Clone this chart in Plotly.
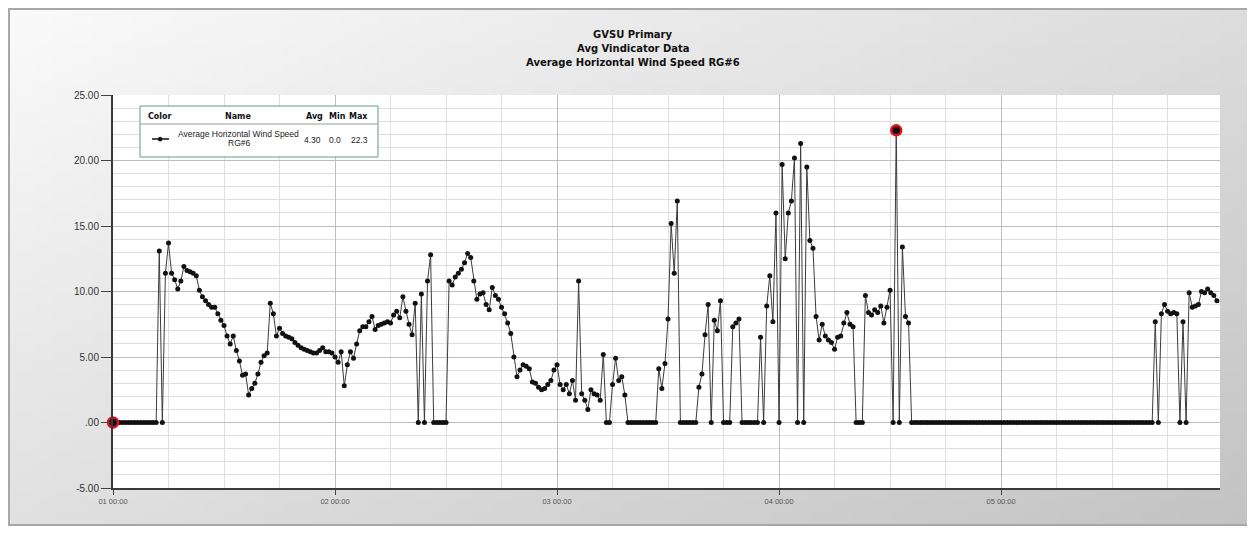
import base64
import struct
import zlib

import pandas as pd
import plotly.graph_objects as go

# ---------------- data (20-minute samples) ----------------
start_time = "2013-04-01 00:00"
sample_step = "20min"

speed_day1 = [0.0] * 15 + [
    13.1, 0.0, 11.4, 13.7, 11.4, 10.9, 10.2, 10.8, 11.9, 11.6, 11.5, 11.4, 11.2, 10.1, 9.6,
    9.3, 9.0, 8.8, 8.8, 8.3, 7.8, 7.4, 6.6, 6.0, 6.6, 5.5, 4.7, 3.6, 3.7, 2.1,
    2.6, 3.0, 3.7, 4.6, 5.1, 5.3, 9.1, 8.3, 6.6, 7.2, 6.8, 6.6, 6.5, 6.4, 6.1,
    5.9, 5.7, 5.6, 5.5, 5.4, 5.3, 5.3, 5.5, 5.7, 5.4, 5.4, 5.3,
]
speed_day2 = [
    5.0, 4.6, 5.4, 2.8, 4.4, 5.4, 4.9, 6.0, 7.0, 7.3, 7.3, 7.7, 8.1, 7.1, 7.4,
    7.5, 7.6, 7.7, 7.6, 8.2, 8.5, 8.0, 9.6, 8.5, 7.5, 6.7, 9.1, 0.0, 9.8, 0.0,
    10.8, 12.8,
] + [0.0] * 5 + [
    10.8, 10.5, 11.1, 11.4, 11.7, 12.2, 12.9, 12.6, 10.8, 9.4, 9.8, 9.9, 9.0, 8.6, 10.3,
    9.7, 9.4, 8.8, 8.3, 7.6, 6.8, 5.0, 3.5, 4.0, 4.4, 4.3, 4.1, 3.1, 3.0, 2.7,
    2.5, 2.6, 2.9, 3.2, 4.0,
]
speed_day3 = [
    4.4, 2.9, 2.5, 2.9, 2.2, 3.2, 1.7, 10.8, 2.2, 1.7, 1.0, 2.5, 2.2, 2.1, 1.7,
    5.2, 0.0, 0.0, 2.9, 4.9, 3.2, 3.5, 2.1,
] + [0.0] * 10 + [4.1, 2.6, 4.5, 7.9, 15.2, 11.4, 16.9] + [0.0] * 6 + [
    2.7, 3.7, 6.7, 9.0, 0.0, 7.8, 7.0, 9.3,
] + [0.0] * 3 + [7.3, 7.6, 7.9] + [0.0] * 6 + [6.5, 0.0, 8.9, 11.2, 7.7, 16.0]
speed_day4 = [
    0.0, 19.7, 12.5, 16.0, 16.9, 20.2, 0.0, 21.3, 0.0, 19.5, 13.9, 13.3, 8.1, 6.3, 7.5,
    6.6, 6.3, 6.1, 5.6, 6.5, 6.6, 7.6, 8.4, 7.5, 7.3,
] + [0.0] * 3 + [
    9.7, 8.4, 8.2, 8.6, 8.4, 8.9, 7.6, 8.8, 10.1, 0.0, 22.3, 0.0, 13.4, 8.1, 7.6,
] + [0.0] * 29
speed_day5 = [0.0] * 50 + [
    7.7, 0.0, 8.3, 9.0, 8.5, 8.3, 8.4, 8.3, 0.0, 7.7, 0.0, 9.9, 8.8, 8.9, 9.0,
    10.0, 9.9, 10.2, 9.9, 9.7, 9.3,
]
speed = speed_day1 + speed_day2 + speed_day3 + speed_day4 + speed_day5
times = pd.date_range(start_time, periods=len(speed), freq=sample_step)
x_end = "2013-04-05 23:40"

ytick_vals = [-5, 0, 5, 10, 15, 20, 25]
ytick_text = ["-5.00", ".00", "5.00", "10.00", "15.00", "20.00", "25.00"]
title_lines = ["GVSU Primary", "Avg Vindicator Data", "Average Horizontal Wind Speed RG#6"]
legend_headers = ["Color", "Name", "Avg", "Min", "Max"]
legend_name_lines = ["Average Horizontal Wind Speed", "RG#6"]
legend_stats = ["4.30", "0.0", "22.3"]

# ---------------- layout geometry ----------------
# The page body adds an 8px margin, so the figure is 8px smaller than the window.
OFF = 8
W, H = 1255 - OFF, 550 - OFF
# plot area in screen pixels
L, R, T, B = 113, 1220, 95, 488


def px(x):
    return (x - L) / (R - L)


def py(y):
    return (B - y) / (B - T)


# background gradient panel (screen pixels)
PX0, PY0, PX1, PY1 = 8, 9, 1253, 525


def gray_png(w, h, fn):
    raw = bytearray()
    for j in range(h):
        raw.append(0)
        for i in range(w):
            raw.append(fn(i, j))

    def chunk(tag, data):
        return (struct.pack(">I", len(data)) + tag + data
                + struct.pack(">I", zlib.crc32(tag + data) & 0xFFFFFFFF))

    ihdr = struct.pack(">IIBBBBB", w, h, 8, 0, 0, 0, 0)
    return (b"\x89PNG\r\n\x1a\n" + chunk(b"IHDR", ihdr)
            + chunk(b"IDAT", zlib.compress(bytes(raw))) + chunk(b"IEND", b""))


GW, GH = 125, 52


def shade(i, j):
    X = PX0 + (i + 0.5) * (PX1 - PX0) / GW
    Y = PY0 + (j + 0.5) * (PY1 - PY0) / GH
    v = 251 - 0.024 * X - 0.05 * Y
    return max(0, min(255, int(round(v))))


bg_uri = "data:image/png;base64," + base64.b64encode(gray_png(GW, GH, shade)).decode()

fig = go.Figure()

fig.add_trace(go.Scatter(
    x=times, y=speed, mode="lines+markers",
    line=dict(color="#3c3c3c", width=1),
    marker=dict(size=5, color="#111111"),
    showlegend=False, cliponaxis=False, hoverinfo="skip",
))

i_min = min(range(len(speed)), key=lambda i: speed[i])
i_max = max(range(len(speed)), key=lambda i: speed[i])
fig.add_trace(go.Scatter(
    x=[times[i_min], times[i_max]], y=[speed[i_min], speed[i_max]], mode="markers",
    marker=dict(size=10, color="#111111", line=dict(color="#e0141e", width=2.5)),
    showlegend=False, cliponaxis=False, hoverinfo="skip",
))

shapes = [
    dict(type="rect", xref="paper", yref="paper", x0=px(PX0 + 1), x1=px(PX1), y0=py(PY1), y1=py(PY0),
         line=dict(color="#a8a8a8", width=2), fillcolor="rgba(0,0,0,0)", layer="below"),
    dict(type="rect", xref="paper", yref="paper", x0=0, x1=1, y0=0, y1=1,
         line=dict(width=0), fillcolor="white", layer="below"),
    # legend box
    dict(type="rect", xref="paper", yref="paper", x0=px(140), x1=px(378), y0=py(157), y1=py(106),
         line=dict(color="#5e9e7e", width=1), fillcolor="white", layer="above"),
    dict(type="line", xref="paper", yref="paper", x0=px(140), x1=px(378), y0=py(124), y1=py(124),
         line=dict(color="#9a9a9a", width=1), layer="above"),
    dict(type="line", xref="paper", yref="paper", x0=px(152), x1=px(169), y0=py(139), y1=py(139),
         line=dict(color="#111111", width=1.5), layer="above"),
    dict(type="circle", xref="paper", yref="paper", x0=px(158.3), x1=px(162.0),
         y0=py(141.0), y1=py(137.3), line=dict(color="#111111", width=1),
         fillcolor="#111111", layer="above"),
]

annotations = []
for text, yy in zip(title_lines, [35, 49, 62.5]):
    annotations.append(dict(text="<b>%s</b>" % text, x=px(633), y=py(yy), xref="paper", yref="paper",
                            showarrow=False, xanchor="center", yanchor="middle",
                            font=dict(family="DejaVu Sans", size=10, color="#111111")))
for text, xx in zip(legend_headers, [160, 238, 314.5, 337.5, 358]):
    annotations.append(dict(text="<b>%s</b>" % text, x=px(xx), y=py(116), xref="paper", yref="paper",
                            showarrow=False, xanchor="center", yanchor="middle",
                            font=dict(family="DejaVu Sans", size=8, color="#111111")))
for text, yy in zip(legend_name_lines, [134, 143]):
    annotations.append(dict(text=text, x=px(238.5), y=py(yy), xref="paper", yref="paper",
                            showarrow=False, xanchor="center", yanchor="middle",
                            font=dict(family="Liberation Sans", size=8.5, color="#222222")))
for text, xx in zip(legend_stats, [312, 335, 359]):
    annotations.append(dict(text=text, x=px(xx), y=py(140), xref="paper", yref="paper",
                            showarrow=False, xanchor="center", yanchor="middle",
                            font=dict(family="Liberation Sans", size=8.5, color="#222222")))

fig.update_layout(
    width=W, height=H,
    margin=dict(l=L - OFF, r=(W + OFF) - R, t=T - OFF, b=(H + OFF) - B, pad=0),
    paper_bgcolor="white", plot_bgcolor="white",
    images=[dict(source=bg_uri, xref="paper", yref="paper", x=px(PX0), y=py(PY0),
                 sizex=px(PX1) - px(PX0), sizey=py(PY0) - py(PY1),
                 xanchor="left", yanchor="top", sizing="stretch", layer="below")],
    shapes=shapes, annotations=annotations,
    xaxis=dict(
        type="date", range=[start_time, x_end],
        tick0=start_time, dtick=86400000, tickformat="%d %H:%M",
        ticks="outside", ticklen=5, tickcolor="#444444", tickwidth=1,
        tickfont=dict(family="Liberation Sans", size=7.5, color="#555555"),
        showline=True, linecolor="#3a3a3a", linewidth=2,
        showgrid=True, gridcolor="#bdbdbd", gridwidth=1,
        minor=dict(tick0=start_time, dtick=6 * 3600 * 1000, showgrid=True,
                   gridcolor="#e0e0e0", gridwidth=1),
        zeroline=False, fixedrange=True,
    ),
    yaxis=dict(
        range=[-5, 25], tickmode="array", tickvals=ytick_vals, ticktext=ytick_text,
        ticks="outside", ticklen=10, tickcolor="#444444", tickwidth=1,
        tickfont=dict(family="Liberation Sans", size=10, color="#333333"),
        showline=True, linecolor="#3a3a3a", linewidth=2,
        showgrid=True, gridcolor="#bdbdbd", gridwidth=1,
        minor=dict(tickmode="linear", tick0=0, dtick=1, showgrid=True,
                   gridcolor="#dedede", gridwidth=1),
        zeroline=False, fixedrange=True,
    ),
)

fig.write_html("out.html")
